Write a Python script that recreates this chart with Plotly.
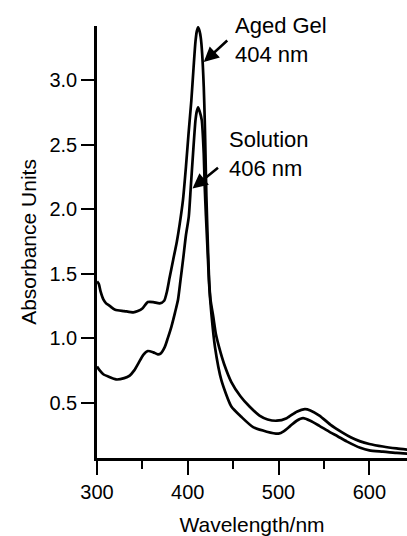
import plotly.graph_objects as go

# Aged Gel spectrum (wavelength nm, absorbance)
aged_wl = [300, 302, 304, 307, 310, 314, 320, 330, 340, 345, 350, 356, 362, 369, 374, 377,
           380, 384, 388, 391, 394.7, 398, 400.9, 403.9, 406.4, 408.5, 410, 411.4, 413, 414.3,
           415.8, 417.6, 418.7, 419.5, 420.5, 422, 423.5, 425, 428, 431, 434.5, 440, 448,
           458, 468, 479, 488, 498, 509, 520, 529, 535, 545, 557, 570, 580, 590, 600, 615,
           630, 642]
aged_abs = [1.44, 1.42, 1.36, 1.30, 1.27, 1.25, 1.22, 1.21, 1.20, 1.21, 1.23, 1.28, 1.28, 1.27,
            1.29, 1.36, 1.47, 1.61, 1.75, 1.88, 2.07, 2.33, 2.59, 2.84, 3.10, 3.30, 3.38, 3.41,
            3.38, 3.33, 3.21, 2.95, 2.69, 2.43, 2.10, 1.75, 1.45, 1.30, 1.17, 1.03, 0.93, 0.80,
            0.66, 0.55, 0.47, 0.40, 0.37, 0.36, 0.38, 0.43, 0.45, 0.44, 0.40, 0.33, 0.27, 0.23,
            0.20, 0.18, 0.16, 0.145, 0.135]

# Solution spectrum
sol_wl = [300, 303, 307, 313, 321, 330, 336, 341, 346, 351, 356, 362, 367, 370, 374.6, 378,
          382, 386, 389.3, 392, 395, 398, 401.1, 403.3, 405.8, 408.5, 410, 411.4, 413, 415.4,
          417.6, 418.7, 420, 422, 423.5, 426, 430, 437, 448, 459, 472, 487, 500, 506, 513,
          520, 527, 535, 545, 557, 565, 575, 590, 600, 615, 630, 642]
sol_abs = [0.78, 0.75, 0.72, 0.70, 0.68, 0.69, 0.71, 0.75, 0.81, 0.87, 0.90, 0.89, 0.875, 0.88,
           0.93, 1.00, 1.09, 1.20, 1.30, 1.45, 1.62, 1.80, 1.94, 2.17, 2.43, 2.69, 2.76, 2.79,
           2.76, 2.69, 2.43, 2.17, 1.95, 1.65, 1.42, 1.19, 0.93, 0.675, 0.47, 0.39, 0.31, 0.275,
           0.26, 0.28, 0.32, 0.36, 0.38, 0.36, 0.32, 0.27, 0.24, 0.20, 0.15, 0.13, 0.12, 0.11,
           0.105]

x_ticks = [300, 400, 500, 600]
y_ticks = [0.5, 1.0, 1.5, 2.0, 2.5, 3.0]
x_range = [300, 641.5]
y_range = [0.071, 3.42]

FONT = "Liberation Sans, Arial, Helvetica, sans-serif"

fig = go.Figure()
for wl, ab, name in [(aged_wl, aged_abs, "Aged Gel"), (sol_wl, sol_abs, "Solution")]:
    fig.add_trace(go.Scatter(x=wl, y=ab, mode="lines", name=name,
                             line=dict(color="black", width=2.7, shape="spline", smoothing=0.6),
                             showlegend=False, cliponaxis=True))

fig.update_layout(
    width=407, height=536,
    margin=dict(l=97, r=0, t=26, b=78, autoexpand=False),
    paper_bgcolor="white", plot_bgcolor="white",
    font=dict(family=FONT, color="black", size=20),
    xaxis=dict(range=x_range, tickvals=x_ticks, ticktext=[str(v) for v in x_ticks],
               showline=True, linecolor="black", linewidth=2.5, showgrid=False, zeroline=False,
               ticks="outside", ticklen=14, tickwidth=2, tickcolor="black",
               tickfont=dict(size=20, family=FONT, color="black"),
               minor=dict(tickvals=[350, 450, 550], ticks="outside", ticklen=8, tickwidth=2,
                          tickcolor="black", showgrid=False),
               title=dict(text="Wavelength/nm", font=dict(size=21, family=FONT, color="black"),
                          standoff=18),
               automargin=False),
    yaxis=dict(range=y_range, tickvals=y_ticks, ticktext=["%.1f" % v for v in y_ticks],
               showline=True, linecolor="black", linewidth=2.5, showgrid=False, zeroline=False,
               ticks="outside", ticklen=13, tickwidth=2, tickcolor="black",
               tickfont=dict(size=20, family=FONT, color="black"),
               title=dict(text="Absorbance Units", font=dict(size=21, family=FONT, color="black"),
                          standoff=8),
               automargin=False),
)

# text labels
fig.add_annotation(x=450.2, y=3.309, xref="x", yref="y", text="Aged Gel<br>404 nm",
                   showarrow=False, xanchor="left", yanchor="middle", align="left",
                   font=dict(size=22, family=FONT, color="black"))
fig.add_annotation(x=443.5, y=2.431, xref="x", yref="y", text="Solution<br>406 nm",
                   showarrow=False, xanchor="left", yanchor="middle", align="left",
                   font=dict(size=22, family=FONT, color="black"))
# arrows
fig.add_annotation(x=417.6, y=3.14, xref="x", yref="y", text="", showarrow=True,
                   ax=25, ay=-23, arrowhead=2, arrowsize=1.2, arrowwidth=2.5, arrowcolor="black")
fig.add_annotation(x=405.2, y=2.16, xref="x", yref="y", text="", showarrow=True,
                   ax=27, ay=-22, arrowhead=2, arrowsize=1.2, arrowwidth=2.5, arrowcolor="black")

fig.write_html("out.html")
